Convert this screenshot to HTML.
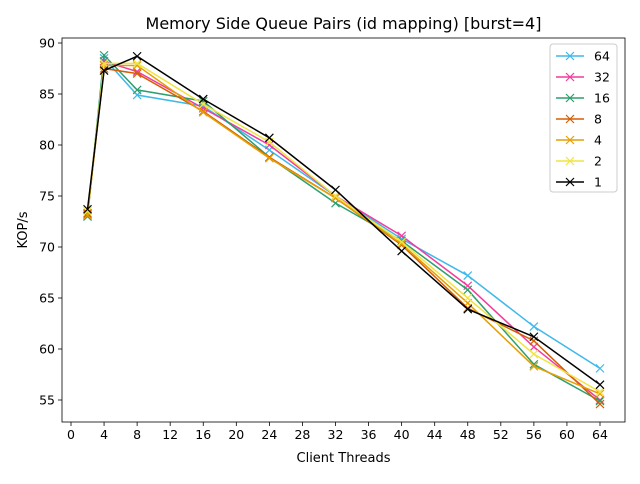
<!DOCTYPE html>
<html><head><meta charset="utf-8"><style>
body{margin:0;background:#fff;font-family:"DejaVu Sans","Liberation Sans",sans-serif}
svg text{font-family:"DejaVu Sans","Liberation Sans",sans-serif;fill:#000}
</style></head><body>
<svg id="chart" width="640" height="480" xmlns="http://www.w3.org/2000/svg"></svg>
<script>
const threads=[2,4,8,16,24,32,40,48,56,64];
const seriesNames=["64","32","16","8","4","2","1"];
const seriesColors=["#3fb8ea","#f23c9e","#2e9e6e","#d55e00","#e69f00","#f0e442","#000000"];
const s64=[73.0,88.5,84.9,83.8,79.5,75.0,70.8,67.2,62.2,58.1];
const s32=[73.2,88.2,87.2,83.6,80.0,75.0,71.1,66.2,60.2,55.0];
const s16=[73.0,88.8,85.4,84.3,78.8,74.3,70.6,65.8,58.5,54.9];
const s8=[73.3,87.5,87.0,83.3,78.8,74.8,70.2,64.0,60.8,54.6];
const s4=[73.1,87.8,87.8,83.2,78.7,74.8,70.3,64.5,58.3,55.6];
const s2=[73.5,88.0,88.0,84.0,80.3,75.0,70.5,65.0,59.5,55.8];
const s1=[73.7,87.3,88.7,84.5,80.7,75.6,69.6,63.9,61.2,56.5];
const xTicks=[0,4,8,12,16,20,24,28,32,36,40,44,48,52,56,60,64];
const yTicks=[55,60,65,70,75,80,85,90];
const allSeries=[s64,s32,s16,s8,s4,s2,s1];

const svg=document.getElementById('chart');
const NS="http://www.w3.org/2000/svg";
const L=62,R=625,T=38,B=422;
const X=v=>71+(v-0)*(600-71)/64;
const Y=v=>400-(v-55)*(400-43)/35;
function mk(tag,attrs,parent){const e=document.createElementNS(NS,tag);for(const k in attrs)e.setAttribute(k,attrs[k]);(parent||svg).appendChild(e);return e;}

const title=mk('text',{x:(L+R)/2,y:29,'text-anchor':'middle','font-size':16});
title.textContent="Memory Side Queue Pairs (id mapping) [burst=4]";



const gx=mk('g',{});


xTicks.forEach(t=>{
  mk('line',{x1:X(t),x2:X(t),y1:B,y2:B+4,stroke:'#000','stroke-width':0.8},gx);
  const tx=mk('text',{x:X(t),y:B+17,'text-anchor':'middle','font-size':12.5},gx);tx.textContent=t;
});
const xl=mk('text',{x:(L+R)/2,y:462,'text-anchor':'middle','font-size':13});
xl.textContent="Client Threads";



const gy=mk('g',{});


yTicks.forEach(t=>{
  mk('line',{x1:L-4,x2:L,y1:Y(t),y2:Y(t),stroke:'#000','stroke-width':0.8},gy);
  const ty=mk('text',{x:L-7,y:Y(t)+4.5,'text-anchor':'end','font-size':12.5},gy);ty.textContent=t;
});
const yl=mk('text',{x:27,y:(T+B)/2,'text-anchor':'middle','font-size':13,transform:`rotate(-90 27 ${(T+B)/2})`});
yl.textContent="KOP/s";



allSeries.forEach((s,i)=>{
  const g=mk('g',{});
  
  
  mk('polyline',{points:s.map((v,j)=>X(threads[j])+','+Y(v)).join(' '),fill:'none',stroke:seriesColors[i],'stroke-width':1.5},g);
  s.forEach((v,j)=>{const cx=X(threads[j]),cy=Y(v);
    mk('path',{d:`M${cx-4},${cy-4}L${cx+4},${cy+4}M${cx-4},${cy+4}L${cx+4},${cy-4}`,stroke:seriesColors[i],'stroke-width':1.2},g);});
});

mk('rect',{x:L,y:T,width:R-L,height:B-T,fill:'none',stroke:'#000','stroke-width':0.8});

const lg=mk('g',{});


mk('rect',{x:550,y:44,width:67,height:148,rx:3,fill:'#fff',stroke:'#ccc'},lg);
seriesNames.forEach((n,i)=>{
  const y=56+i*21;
  const e=mk('g',{},lg);
  
  
  mk('line',{x1:556,x2:584,y1:y,y2:y,stroke:seriesColors[i],'stroke-width':1.5},e);
  mk('path',{d:`M566,${y-4}L574,${y+4}M566,${y+4}L574,${y-4}`,stroke:seriesColors[i],'stroke-width':1.2},e);
  const t=mk('text',{x:594,y:y+4.5,'font-size':12.5},e);t.textContent=n;
});
</script>
</body></html>
